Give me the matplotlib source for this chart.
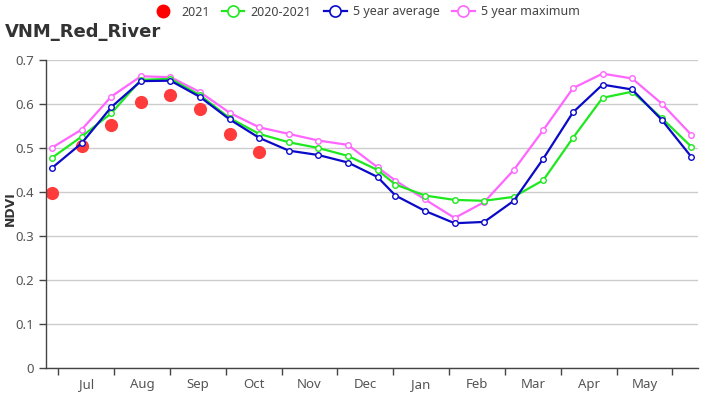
import matplotlib
matplotlib.use("Agg")
import matplotlib.pyplot as plt
from matplotlib.lines import Line2D
from matplotlib.ticker import FixedLocator, NullFormatter, FixedFormatter

plt.rcParams['font.family'] = ['Noto Sans', 'DejaVu Sans']

# Time of each composite, in months since 1 July
period = [-0.11, 0.42, 0.95, 1.48, 2.01, 2.54, 3.07, 3.60, 4.13, 4.66, 5.19, 5.72,
          6.04, 6.57, 7.10, 7.63, 8.16, 8.69, 9.22, 9.75, 10.28, 10.81, 11.34]

months = ['Jul', 'Aug', 'Sep', 'Oct', 'Nov', 'Dec', 'Jan', 'Feb', 'Mar', 'Apr', 'May']

ndvi_2021 = [0.397, 0.504, 0.552, 0.605, 0.621, 0.589, 0.532, 0.490]

ndvi_2020_2021 = [0.478, 0.526, 0.579, 0.655, 0.657, 0.620, 0.568, 0.532, 0.513, 0.500,
                  0.482, 0.450, 0.417, 0.392, 0.382, 0.380, 0.389, 0.427, 0.523, 0.614,
                  0.628, 0.568, 0.503]

ndvi_5ya = [0.455, 0.511, 0.593, 0.652, 0.653, 0.616, 0.565, 0.523, 0.494, 0.484,
            0.467, 0.434, 0.392, 0.357, 0.329, 0.332, 0.380, 0.476, 0.581, 0.644,
            0.633, 0.564, 0.480]

ndvi_5ym = [0.501, 0.542, 0.617, 0.663, 0.661, 0.627, 0.580, 0.547, 0.532, 0.517,
            0.507, 0.456, 0.426, 0.383, 0.341, 0.377, 0.450, 0.541, 0.636, 0.669,
            0.658, 0.601, 0.530]

yticks = [0, 0.1, 0.2, 0.3, 0.4, 0.5, 0.6, 0.7]

RED = '#ff3b3b'
GREEN = '#1ee81e'
BLUE = '#0a0ac8'
PINK = '#ff66ff'

fig = plt.figure(figsize=(7.26, 4.0), dpi=100)
ax = fig.add_axes([46/726, 32/400, 652/726, 308/400])

ax.scatter(period[:len(ndvi_2021)], ndvi_2021, s=90, color=RED, zorder=2, linewidths=0)

line_kw = dict(lw=1.6, marker='o', markersize=4, markerfacecolor='white', markeredgewidth=1.0)
ax.plot(period, ndvi_5ym, color=PINK, zorder=3, **line_kw)
ax.plot(period, ndvi_2020_2021, color=GREEN, zorder=4, **line_kw)
ax.plot(period, ndvi_5ya, color=BLUE, zorder=5, **line_kw)

ax.set_ylim(0, 0.7)
ax.set_xlim(-0.22, 11.46)
ax.set_yticks(yticks)
ax.set_yticklabels(['0', '0.1', '0.2', '0.3', '0.4', '0.5', '0.6', '0.7'])
ax.yaxis.grid(True, color='#cccccc', lw=1)
ax.set_axisbelow(True)

# month boundaries as major ticks, labels at month centres
ax.xaxis.set_major_locator(FixedLocator(list(range(0, len(months) + 1))))
ax.xaxis.set_major_formatter(NullFormatter())
ax.xaxis.set_minor_locator(FixedLocator([i + 0.5 for i in range(len(months))]))
ax.xaxis.set_minor_formatter(FixedFormatter(months))
ax.tick_params(axis='x', which='major', length=5, color='#444444', width=1)
ax.tick_params(axis='x', which='minor', length=0, pad=7, labelsize=9.5, labelcolor='#555555')
ax.tick_params(axis='y', length=5, color='#444444', width=1, labelsize=9.5, labelcolor='#555555')

for s in ['top', 'right']:
    ax.spines[s].set_visible(False)
for s in ['left', 'bottom']:
    ax.spines[s].set_color('#444444')
    ax.spines[s].set_linewidth(1)

fig.text(10/726, 1 - 209/400, 'NDVI', fontsize=9, fontweight='bold', color='#333333',
         rotation=90, ha='center', va='center', family=['DejaVu Sans'])

fig.text(5/726, 1 - 32/400, 'VNM_Red_River', fontsize=13, fontweight='bold',
         color='#333333', va='center', ha='left', family=['DejaVu Sans'])

handles = [
    Line2D([], [], ls='none', marker='o', markersize=10, color='red', markeredgewidth=0),
    Line2D([], [], color=GREEN, lw=1.6, marker='o', markersize=8, markerfacecolor='white', markeredgewidth=1.2),
    Line2D([], [], color=BLUE, lw=1.6, marker='o', markersize=8, markerfacecolor='white', markeredgewidth=1.2),
    Line2D([], [], color=PINK, lw=1.6, marker='o', markersize=8, markerfacecolor='white', markeredgewidth=1.2),
]
fig.legend(handles, ['2021', '2020-2021', '5 year average', '5 year maximum'],
           loc='center', bbox_to_anchor=(366/726, 1 - 12/400), ncol=4, frameon=False,
           fontsize=9, labelcolor='#444444', handlelength=1.8, handletextpad=0.5,
           columnspacing=1.0, borderaxespad=0)

fig.savefig('out.png', dpi=100)
